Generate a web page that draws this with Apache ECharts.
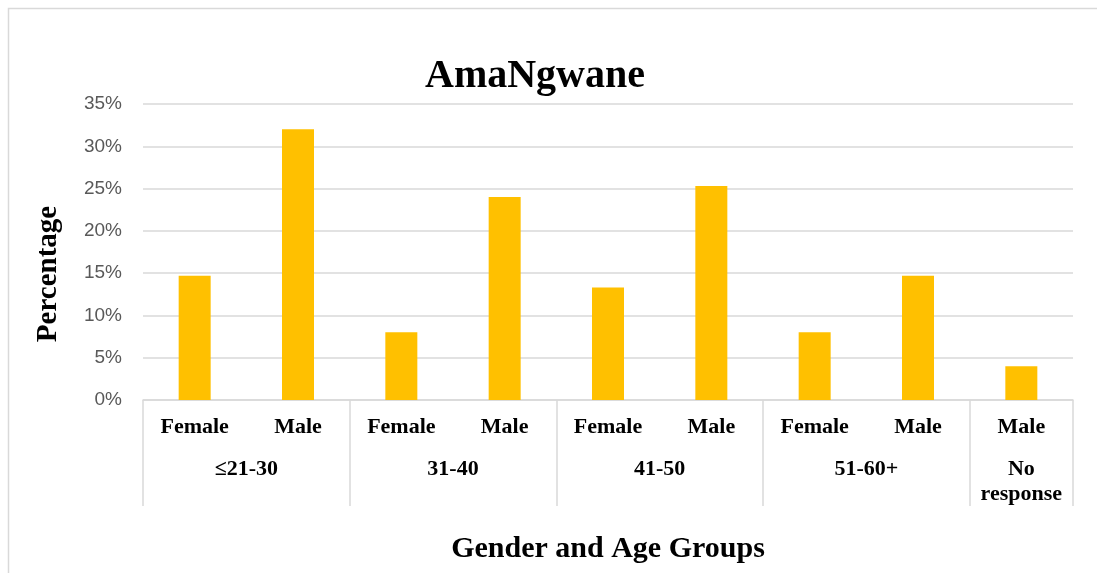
<!DOCTYPE html>
<html>
<head>
<meta charset="utf-8">
<title>AmaNgwane</title>
<script src="https://cdn.jsdelivr.net/npm/echarts@6/dist/echarts.min.js"></script>
<style>
  html, body { margin: 0; padding: 0; background: #ffffff; }
  #chart { width: 1097px; height: 573px; }
</style>
</head>
<body>
<div id="chart"></div>
<script>
// Gender within each age band
var genders = ['Female', 'Male', 'Female', 'Male', 'Female', 'Male', 'Female', 'Male', 'Male'];
// Percentage of respondents per bar
var percentages = [14.7, 32, 8, 24, 13.3, 25.3, 8, 14.7, 4];
// Age bands and how many gender bars each spans
var groupNames = ['≤21-30', '31-40', '41-50', '51-60+', 'No\nresponse'];
var groupSpans = [2, 2, 2, 2, 1];
var yTicks = [0, 5, 10, 15, 20, 25, 30, 35];

// The group axis runs on half-category steps so that a label can sit
// at the middle of its span and a divider tick at each span boundary.
var groupSlots = [];
var groupBounds = {};
var groupCenters = {};
var pos = 0;
groupBounds[0] = true;
for (var i = 0; i < groupNames.length; i++) {
  groupCenters[pos + groupSpans[i]] = groupNames[i];
  pos += groupSpans[i] * 2;
  groupBounds[pos] = true;
}
for (var k = 0; k <= pos; k++) {
  groupSlots.push(groupCenters[k] || '');
}

var serif = '"Liberation Serif", "Times New Roman", serif';
var gridColor = '#d9d9d9';

var chart = echarts.init(document.getElementById('chart'));
chart.setOption({
  animation: false,
  backgroundColor: '#ffffff',
  title: {
    text: 'AmaNgwane',
    left: 530,
    top: 52,
    textAlign: 'center',
    textStyle: { fontFamily: serif, fontWeight: 'bold', fontSize: 40, color: '#000000' }
  },
  graphic: [{
    type: 'rect',
    shape: { x: 8.5, y: 8.5, width: 1200, height: 700 },
    style: { fill: 'none', stroke: gridColor, lineWidth: 1.5 },
    silent: true
  }, {
    type: 'text',
    x: 49,
    y: 274,
    rotation: Math.PI / 2,
    style: {
      text: 'Percentage',
      fontFamily: serif, fontWeight: 'bold', fontSize: 29, fill: '#000000',
      align: 'center', verticalAlign: 'middle'
    },
    silent: true
  }],
  grid: { left: 143, right: 24, top: 104, bottom: 173 },
  xAxis: [{
    type: 'category',
    data: genders,
    position: 'bottom',
    axisLine: { show: true, lineStyle: { color: gridColor, width: 1.5 } },
    axisTick: { show: false },
    axisLabel: {
      interval: 0,
      margin: 16,
      fontFamily: serif, fontWeight: 'bold', fontSize: 22, color: '#000000'
    }
  }, {
    type: 'category',
    data: groupSlots,
    position: 'bottom',
    boundaryGap: false,
    axisLine: { show: false },
    axisTick: {
      show: true,
      length: 106,
      interval: function (idx) { return !!groupBounds[idx]; },
      lineStyle: { color: gridColor, width: 1.5 }
    },
    axisLabel: {
      interval: function (idx, val) { return val !== ''; },
      margin: 57,
      lineHeight: 25,
      fontFamily: serif, fontWeight: 'bold', fontSize: 22, color: '#000000'
    },
    name: 'Gender and Age Groups',
    nameLocation: 'middle',
    nameGap: 134,
    nameTextStyle: { fontFamily: serif, fontWeight: 'bold', fontSize: 30, color: '#000000' }
  }],
  yAxis: {
    type: 'value',
    min: yTicks[0],
    max: yTicks[yTicks.length - 1],
    interval: yTicks[1] - yTicks[0],
    axisLine: { show: false },
    axisTick: { show: false },
    splitLine: { lineStyle: { color: gridColor, width: 1.5 } },
    axisLabel: {
      margin: 21,
      formatter: '{value}%',
      fontFamily: '"Liberation Sans", "DejaVu Sans", sans-serif',
      fontSize: 19,
      color: '#595959'
    }
  },
  series: [{
    type: 'bar',
    xAxisIndex: 0,
    data: percentages,
    barWidth: 32,
    itemStyle: { color: '#FFC000' }
  }]
});
</script>
</body>
</html>
